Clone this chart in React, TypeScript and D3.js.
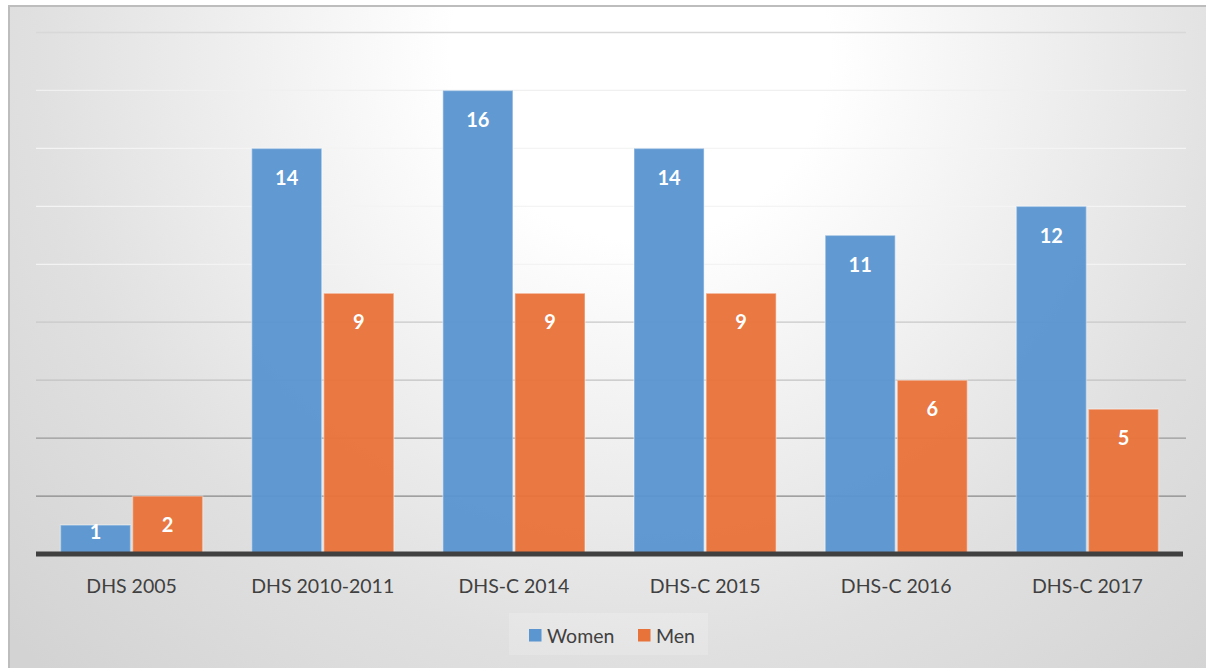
import React from "react";
import * as d3 from "d3";

const categories = ["DHS 2005", "DHS 2010-2011", "DHS-C 2014", "DHS-C 2015", "DHS-C 2016", "DHS-C 2017"];
const seriesNames = ["Women", "Men"];
const women = [1, 14, 16, 14, 11, 12];
const men = [2, 9, 9, 9, 6, 5];
const gridTicks = [2, 4, 6, 8, 10, 12, 14, 16, 18];

const W = 1206;
const H = 668;
const FONT = "Lato, 'Open Sans', sans-serif";
const COLORS = ["#5b96d0", "#e8733a"];

export default function App() {
  const x0 = d3.scaleBand<string>().domain(categories).range([36, 1183]).paddingInner(0).paddingOuter(0);
  const x1 = d3.scaleBand<string>().domain(seriesNames).range([24.5, x0.bandwidth() - 24.5]).paddingInner(0.028);
  const y = d3.scaleLinear().domain([0, 18]).range([554, 32.5]);
  const gridColor = d3
    .scaleLinear<string>()
    .domain([2, 4, 6, 8, 10, 14, 16, 18])
    .range(["#888888", "#9a9a9a", "#c2c2c2", "#c8c8c8", "#f3f3f3", "#f4f4f4", "#f0f0f0", "#d8d8d8"]);
  const data = [women, men];

  return (
    <svg width={W} height={H} style={{ position: "absolute", left: 0, top: 0 }} fontFamily={FONT}>
      <defs>
        <radialGradient id="bg" gradientUnits="userSpaceOnUse" cx={640} cy={50} r={860}>
          <stop offset="0" stopColor="#ffffff" />
          <stop offset="0.22" stopColor="#ffffff" />
          <stop offset="0.7" stopColor="#e0e0e0" />
          <stop offset="1" stopColor="#d3d3d3" />
        </radialGradient>
      </defs>
      <rect x={0} y={0} width={W} height={H} fill="#ffffff" />
      <rect x={9} y={6} width={W + 10} height={H + 10} fill="url(#bg)" stroke="#bdbdbd" strokeWidth={2} />

      {gridTicks.map((t) => (
        <line key={t} x1={36} x2={1186} y1={y(t)} y2={y(t)} stroke={gridColor(t)} strokeWidth={1.3} />
      ))}

      {categories.map((c, i) => (
        <g key={c} transform={`translate(${x0(c)},0)`}>
          {seriesNames.map((s, j) => {
            const v = data[j][i];
            const bx = x1(s)!;
            const top = y(v);
            const labelY = Math.min(top + 29, y(0) - 22);
            return (
              <g key={s}>
                <rect
                  x={bx}
                  y={top}
                  width={x1.bandwidth()}
                  height={y(0) - top}
                  fill={COLORS[j]}
                  fillOpacity={0.96}
                  stroke="#ffffff"
                  strokeOpacity={0.35}
                  strokeWidth={1.5}
                />
                <text
                  x={bx + x1.bandwidth() / 2}
                  y={labelY}
                  dy="0.36em"
                  textAnchor="middle"
                  fill="#ffffff"
                  fontWeight="bold"
                  fontSize={20}
                >
                  {v}
                </text>
              </g>
            );
          })}
          <text
            x={x0.bandwidth() / 2}
            y={586}
            dy="0.36em"
            textAnchor="middle"
            fill="#404040"
            fontSize={19.5}
          >
            {c}
          </text>
        </g>
      ))}

      <line x1={36} x2={1183} y1={y(0)} y2={y(0)} stroke="#404040" strokeWidth={5} />

      <g>
        <rect x={509} y={613} width={199} height={42} fill="#ffffff" fillOpacity={0.18} />
        {seriesNames.map((s, j) => {
          const lx = j === 0 ? 529 : 638;
          return (
            <g key={s}>
              <rect x={lx} y={629} width={12.5} height={12.5} fill={COLORS[j]} />
              <text x={lx + 18} y={635.5} dy="0.36em" fill="#404040" fontSize={19.5}>
                {s}
              </text>
            </g>
          );
        })}
      </g>
    </svg>
  );
}
